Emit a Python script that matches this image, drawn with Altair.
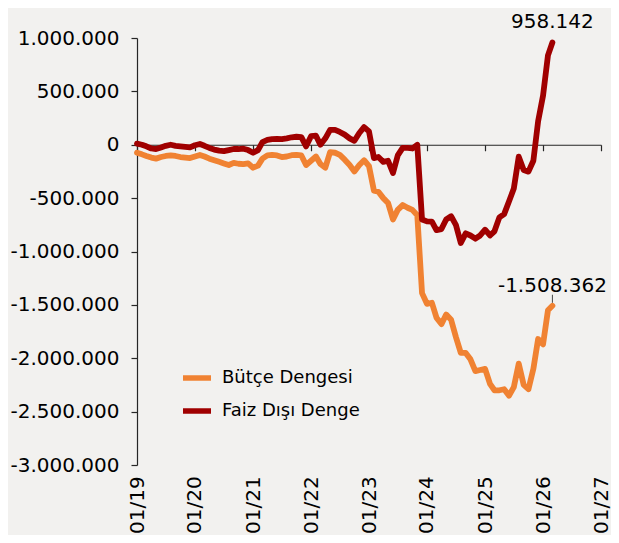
import altair as alt
import pandas as pd

# Monthly dates, Jan 2019 .. Mar 2026
months = pd.date_range("2019-01-01", periods=87, freq="MS").strftime("%Y-%m-%d").tolist()

series_names = ["Bütçe Dengesi", "Faiz Dışı Denge"]
series_colors = ["#F08232", "#A00000"]

butce = [
    -75000, -90000, -105000, -120000, -130000, -115000, -105000, -100000, -105000, -115000, -120000, -125000,
    -110000, -95000, -110000, -130000, -145000, -160000, -175000, -190000, -170000, -178000, -182000, -175000,
    -215000, -195000, -130000, -100000, -95000, -100000, -115000, -110000, -98000, -95000, -100000, -190000,
    -150000, -110000, -180000, -215000, -70000, -75000, -95000, -140000, -190000, -250000, -190000, -145000,
    -200000, -430000, -440000, -500000, -545000, -700000, -610000, -565000, -590000, -610000, -660000, -1390000,
    -1490000, -1480000, -1620000, -1680000, -1590000, -1640000, -1800000, -1950000, -1950000, -2010000, -2120000, -2110000,
    -2100000, -2240000, -2300000, -2300000, -2290000, -2350000, -2270000, -2050000, -2250000, -2290000, -2100000, -1820000,
    -1870000, -1550000, -1508362,
]

faiz_disi = [
    10000, 0, -15000, -35000, -40000, -25000, -10000, 0, -10000, -15000, -20000, -25000,
    -5000, 7000, -10000, -30000, -45000, -55000, -60000, -50000, -40000, -40000, -37000, -50000,
    -75000, -50000, 25000, 45000, 53000, 55000, 53000, 60000, 70000, 75000, 72000, -15000,
    80000, 85000, 0, 60000, 140000, 140000, 120000, 95000, 60000, 37000, 110000, 165000,
    125000, -125000, -115000, -160000, -150000, -265000, -100000, -30000, -30000, -35000, 0, -700000,
    -718000, -720000, -800000, -790000, -700000, -670000, -750000, -920000, -830000, -850000, -880000, -850000,
    -796000, -850000, -811000, -680000, -650000, -530000, -410000, -112000, -236000, -252000, -150000, 220000,
    460000, 837000, 958142,
]

end_labels = ["-1.508.362", "958.142"]

df = pd.DataFrame({
    "date": months * 2,
    "value": butce + faiz_disi,
    "series": [series_names[0]] * len(months) + [series_names[1]] * len(months),
})

lab_df = pd.DataFrame({
    "date": [months[-1], months[-1]],
    "value": [butce[-1], faiz_disi[-1]],
    "series": series_names,
    "label": end_labels,
})

FONT = "DejaVu Sans"
year_ticks = [alt.DateTime(year=y, month=1, date=1, utc=True) for y in range(2019, 2028)]

PLOT_H = 427

x_enc = alt.X(
    "date:T",
    scale=alt.Scale(type="utc", domain=[alt.DateTime(year=2019, month=1, date=1, utc=True),
                                        alt.DateTime(year=2027, month=1, date=1, utc=True)]),
    axis=alt.Axis(
        title=None, values=year_ticks, format="%m/%y", orient="bottom",
        offset=-PLOT_H * 0.75, domainColor="#262626", domainWidth=1.2,
        tickColor="#262626", tickSize=6, tickWidth=1.2,
        labelAngle=-90, labelPadding=325, labelFontSize=20, labelColor="black",
        labelFont=FONT, grid=False, labelOverlap=False, labelBound=False, labelFlush=False,
    ),
)
y_enc = alt.Y(
    "value:Q",
    scale=alt.Scale(domain=[-3000000, 1000000], nice=False, zero=False),
    axis=alt.Axis(
        title=None, values=list(range(-3000000, 1000001, 500000)),
        labelExpr="replace(replace(replace(replace(format(datum.value, ','), ',', '.'), ',', '.'), ',', '.'), '\u2212', '-')",
        domainColor="#262626", domainWidth=1.2, tickColor="#262626", tickSize=6, tickWidth=1.2,
        labelPadding=12, labelFontSize=20, labelColor="black", labelFont=FONT, grid=False,
    ),
)

lines = alt.Chart(df).mark_line(strokeWidth=5.8, strokeJoin="round", strokeCap="round").encode(
    x=x_enc,
    y=y_enc,
    color=alt.Color(
        "series:N",
        scale=alt.Scale(domain=series_names, range=series_colors),
        legend=alt.Legend(
            title=None, orient="none", legendX=43, legendY=323, padding=0,
            symbolType="stroke", symbolSize=784, symbolStrokeWidth=5.5,
            labelFontSize=18, labelFont=FONT, labelColor="black", labelOffset=8,
            rowPadding=5,
        ),
    ),
    order=alt.Order("series:N"),
)

texts = alt.Chart(lab_df).mark_text(fontSize=20, font=FONT, dy=-20, color="black", align="center").encode(
    x="date:T", y="value:Q", text="label:N"
)

leader = alt.Chart(lab_df[lab_df["series"] == series_names[0]]).mark_tick(
    orient="vertical", size=8, thickness=1, color="black", yOffset=-7
).encode(x="date:T", y="value:Q")

chart = alt.layer(lines, texts, leader).properties(
    width=464, height=PLOT_H,
    autosize=alt.AutoSizeParams(type="none"),
    padding={"left": 129, "top": 30, "right": 10, "bottom": 70},
    background="#F2F1EF",
).configure_view(stroke=None)

chart.save("out.html", embed_options={"renderer": "svg", "actions": False})
